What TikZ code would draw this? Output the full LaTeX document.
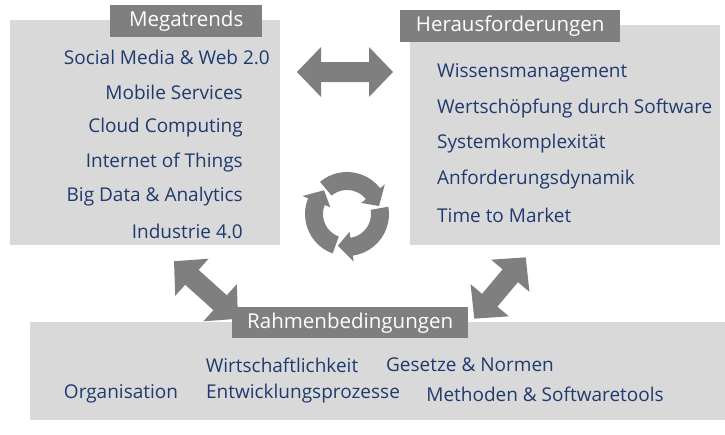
\documentclass[tikz,border=0pt]{standalone}
\usepackage{fontspec}
\setmainfont{Open Sans}
\usetikzlibrary{calc}
\definecolor{boxgray}{HTML}{D9D9D9}
\definecolor{darkgray}{HTML}{7F7F7F}
\definecolor{textblue}{HTML}{1F3A6E}
\tikzset{
  area/.style={fill=boxgray,draw=none,anchor=north west,inner sep=0pt},
  head/.style={fill=darkgray,text=white,font=\fontsize{20.5}{22}\selectfont,inner sep=0pt,anchor=north west},
  item/.style={text=textblue,font=\fontsize{19}{22}\selectfont,inner sep=0pt},
  arr/.style={fill=darkgray}
}
\newcommand{\dblarr}[3]{%
  \begin{scope}[shift={#1},rotate=#2]
    \fill[arr] (-#3,0)--(-#3+24,-25)--(-#3+24,-10)--(#3-24,-10)--(#3-24,-25)--(#3,0)
      --(#3-24,25)--(#3-24,10)--(-#3+24,10)--(-#3+24,25)--cycle;
  \end{scope}}
\begin{document}
\begin{tikzpicture}[x=1pt,y=-1pt]
\useasboundingbox (0,0) rectangle (725,434);
% boxes
\node[area,minimum width=270,minimum height=225] (mega) at (10,20) {};
\node[area,minimum width=310,minimum height=220] (hera) at (410,25) {};
\node[area,minimum width=695,minimum height=98] (rahm) at (30,322) {};
\node[head,minimum width=152,minimum height=32] (megah) at (110,5) {Megatrends};
\node[head,minimum width=220,minimum height=32] (herah) at (400,10) {Herausforderungen};
\node[head,minimum width=236,minimum height=31] (rahmh) at (232,307) {Rahmenbedingungen};
% megatrends
\node[item,anchor=east] (m1) at (270,57.8) {Social Media \& Web 2.0};
\foreach \t [count=\i from 2] in {Mobile Services,Cloud Computing,Internet of Things,Big Data \& Analytics,Industrie 4.0}
  \node[item,anchor=east] (m\i) at (243,23+\i*34.8) {\t};
% herausforderungen
\foreach \t [count=\i] in {Wissensmanagement,Wertschöpfung durch Software,Systemkomplexität,Anforderungsdynamik,Time to Market}
  \node[item,anchor=west] (h\i) at (437,37+\i*35.6) {\t};
% rahmenbedingungen
\node[item] (r1) at (282,365) {Wirtschaftlichkeit};
\node[item] (r2) at (470,365) {Gesetze \& Normen};
\node[item] (r3) at (121,394) {Organisation};
\node[item] (r4) at (303,394) {Entwicklungsprozesse};
\node[item] (r5) at (545,394) {Methoden \& Softwaretools};
% arrows
\dblarr{(345,72)}{0}{48}
\dblarr{(206,290)}{-42}{43}
\dblarr{(500,288)}{50}{40}
\foreach \s in {-10,110,230}
  \fill[arr] (347,214) ++(\s:24) -- ++(\s:18) arc[start angle=\s,end angle=\s+92,radius=42]
    -- ($(347,214)+(\s+92:48)$) -- ($(347,214)+(\s+116:33)$) -- ($(347,214)+(\s+92:18)$)
    -- ($(347,214)+(\s+92:24)$) arc[start angle=\s+92,end angle=\s,radius=24] -- cycle;
\end{tikzpicture}
\end{document}
